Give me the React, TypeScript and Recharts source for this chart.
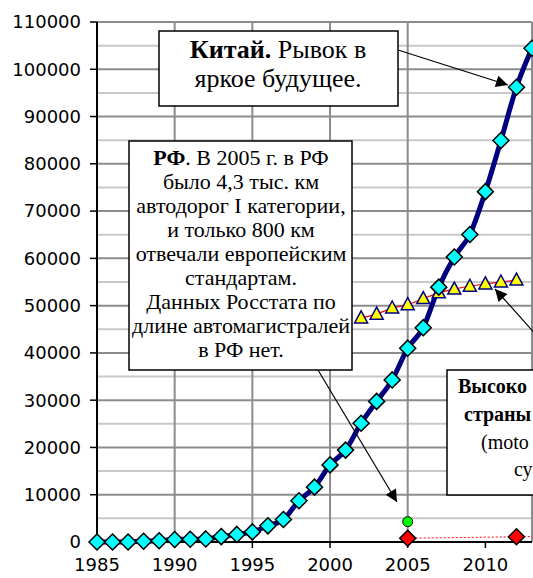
import React from 'react';
import { LineChart, Line, XAxis, YAxis, CartesianGrid } from 'recharts';

document.body.style.margin = '0';

const years = [
  1985, 1986, 1987, 1988, 1989, 1990, 1991, 1992, 1993, 1994, 1995, 1996, 1997, 1998, 1999,
  2000, 2001, 2002, 2003, 2004, 2005, 2006, 2007, 2008, 2009, 2010, 2011, 2012, 2013,
];
const chinaKm = [
  0, 0, 0, 147, 271, 522, 574, 652, 1145, 1603, 2141, 3422, 4771, 8733, 11605,
  16314, 19437, 25130, 29745, 34288, 41005, 45339, 53913, 60302, 65055, 74113, 84946, 96200, 104438,
];

const devYears = [2002, 2003, 2004, 2005, 2006, 2007, 2008, 2009, 2010, 2011, 2012];
const devKm = [47400, 48200, 49500, 50200, 51500, 52700, 53500, 54100, 54600, 55000, 55400];

const rfCatYears = [2005];
const rfCatKm = [4300];

const rfEuroYears = [2005, 2012, 2013];
const rfEuroKm = [800, 1100, 1150];
const rfEuroMarked = [2005, 2012];

const xTicks = [1985, 1990, 1995, 2000, 2005, 2010];
const xGrid = [1990, 1995, 2000, 2005, 2010, 2013];
const yTicks = [0, 10000, 20000, 30000, 40000, 50000, 60000, 70000, 80000, 90000, 100000, 110000];
const yMinor = [5000, 15000, 25000, 35000, 45000, 55000, 65000, 75000, 85000, 95000, 105000];

const china = years.map((year, i) => ({ year, value: chinaKm[i] }));
const dev = devYears.map((year, i) => ({ year, value: devKm[i] }));
const rfCat = rfCatYears.map((year, i) => ({ year, value: rfCatKm[i] }));
const rfEuro = rfEuroYears.map((year, i) => ({ year, value: rfEuroKm[i] }));

const serif = '"Liberation Serif", "Times New Roman", serif';
const sans = '"DejaVu Sans", Arial, sans-serif';

function diamond(fill: string, r: number, marked?: number[]) {
  return (props: any) => {
    const { cx, cy, index, payload } = props;
    if (cx == null || cy == null) return <g key={index} />;
    if (marked && !marked.includes(payload.year)) return <g key={index} />;
    return (
      <path
        key={index}
        d={`M${cx},${cy - r}L${cx + r},${cy}L${cx},${cy + r}L${cx - r},${cy}Z`}
        fill={fill}
        stroke="#000"
        strokeWidth={1.5}
      />
    );
  };
}

const triangle = (props: any) => {
  const { cx, cy, index } = props;
  if (cx == null || cy == null) return <g key={index} />;
  return (
    <path
      key={index}
      d={`M${cx},${cy - 7}L${cx + 6.5},${cy + 5}L${cx - 6.5},${cy + 5}Z`}
      fill="#FFFF00"
      stroke="#000080"
      strokeWidth={1.5}
    />
  );
};

function Notes() {
  return (
    <svg width={533} height={578} style={{ position: 'absolute', left: 0, top: 0, pointerEvents: 'none' }}>
      <defs>
        <marker id="ah" viewBox="0 0 10 10" refX="10" refY="5" markerWidth="17" markerHeight="12" markerUnits="userSpaceOnUse" orient="auto">
          <path d="M0,0L10,5L0,10Z" fill="#000" />
        </marker>
      </defs>
      <line x1={398} y1={50} x2={508} y2={85} stroke="#000" strokeWidth={1.2} markerEnd="url(#ah)" />
      <line x1={318} y1={370} x2={397} y2={502} stroke="#000" strokeWidth={1.2} markerEnd="url(#ah)" />
      <line x1={548} y1={348} x2={495} y2={289} stroke="#000" strokeWidth={1.2} markerEnd="url(#ah)" />

      <rect x={159} y={31} width={239} height={75} fill="#fff" stroke="#000" strokeWidth={1.5} />
      <text x={278} y={58} textAnchor="middle" fontFamily={serif} fontSize={26}>
        <tspan fontWeight="bold">Китай.</tspan> Рывок в
      </text>
      <text x={278} y={87} textAnchor="middle" fontFamily={serif} fontSize={26}>яркое будущее.</text>

      <rect x={129} y={141} width={223} height={229} fill="#fff" stroke="#000" strokeWidth={1.5} />
      <g fontFamily={serif} fontSize={22} textAnchor="middle">
        <text x={241} y={165}><tspan fontWeight="bold">РФ</tspan>. В 2005 г. в РФ</text>
        <text x={241} y={189}>было 4,3 тыс. км</text>
        <text x={241} y={213}>автодорог  I категории,</text>
        <text x={241} y={237}>и только 800 км</text>
        <text x={241} y={261}>отвечали европейским</text>
        <text x={241} y={285}>стандартам.</text>
        <text x={241} y={309}>Данных Росстата  по</text>
        <text x={241} y={333}>длине автомагистралей</text>
        <text x={241} y={357}>в РФ нет.</text>
      </g>

      <rect x={447} y={370} width={120} height={125} fill="#fff" stroke="#000" strokeWidth={1.5} />
      <g fontFamily={serif} fontSize={20}>
        <text x={458} y={393} fontWeight="bold">Высоко</text>
        <text x={464} y={421} fontWeight="bold">страны</text>
        <text x={481} y={449}>(moto</text>
        <text x={514} y={476}>су</text>
      </g>
    </svg>
  );
}

export default function App() {
  return (
    <div style={{ position: 'relative', width: 533, height: 578, background: '#fff', overflow: 'hidden' }}>
      <LineChart width={533} height={578} margin={{ top: 22, right: 1, bottom: 0, left: 0 }}>
        <CartesianGrid horizontalValues={yMinor} vertical={false} stroke="#c8c8c8" strokeWidth={2} />
        <CartesianGrid horizontalValues={yTicks} verticalValues={xGrid} stroke="#8c8c8c" strokeWidth={2} />
        <XAxis
          dataKey="year"
          type="number"
          domain={[1985, 2013]}
          ticks={xTicks}
          allowDuplicatedCategory={false}
          height={36}
          tickSize={6}
          tickMargin={10}
          axisLine={{ stroke: '#000', strokeWidth: 2 }}
          tickLine={{ stroke: '#000', strokeWidth: 1.5 }}
          tick={{ fill: '#000', fontSize: 18, fontFamily: sans }}
        />
        <YAxis
          type="number"
          domain={[0, 110000]}
          ticks={yTicks}
          width={97}
          tickSize={7}
          tickMargin={9}
          axisLine={{ stroke: '#000', strokeWidth: 2 }}
          tickLine={{ stroke: '#000', strokeWidth: 1.5 }}
          tick={{ fill: '#000', fontSize: 18, fontFamily: sans }}
        />
        <Line data={rfEuro} dataKey="value" type="linear" stroke="#FF0000" strokeWidth={1} strokeDasharray="2 2" dot={diamond('#FF0000', 8, rfEuroMarked)} isAnimationActive={false} />
        <Line data={rfCat} dataKey="value" type="linear" stroke="#000" dot={{ r: 5, fill: '#00FF00', stroke: '#000', strokeWidth: 1 }} isAnimationActive={false} />
        <Line data={dev} dataKey="value" type="monotone" stroke="#FF0000" strokeWidth={1.2} dot={triangle} isAnimationActive={false} />
        <Line data={china} dataKey="value" type="monotone" stroke="#000080" strokeWidth={5} dot={diamond('#00FFFF', 8)} isAnimationActive={false} />
      </LineChart>
      <Notes />
    </div>
  );
}
